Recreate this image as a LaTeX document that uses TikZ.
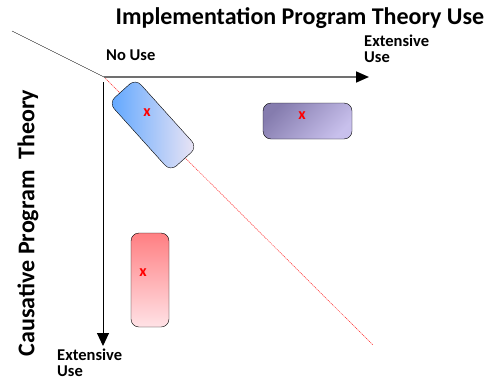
\documentclass[tikz,border=0pt]{standalone}
\usepackage{fontspec}
\setmainfont{Carlito}
\usetikzlibrary{arrows.meta, positioning}

\definecolor{axisgray}{HTML}{707070}
\definecolor{blueA}{HTML}{5EA6FF}
\definecolor{blueB}{HTML}{EEE6F4}
\definecolor{purpleA}{HTML}{857CAE}
\definecolor{purpleB}{HTML}{C8C0EC}
\definecolor{redA}{HTML}{FF7F82}
\definecolor{redB}{HTML}{FFE2E6}

\tikzset{
    zone/.style={draw, thin, rounded corners=8pt, inner sep=0pt},
    mark x/.style={text=red, font=\bfseries\fontsize{16}{16}\selectfont, inner sep=0pt},
    axislabel/.style={font=\bfseries\fontsize{16.5}{16}\selectfont, align=left, inner sep=0pt}
}

\begin{document}
\begin{tikzpicture}[x=1pt, y=-1pt]
    \useasboundingbox (0,0) rectangle (489,388);
    \coordinate (O) at (104,77);
    \coordinate (xend) at (369,77);
    \coordinate (yend) at (103,346);
    \coordinate (tail) at (12,31);
    \coordinate (diagend) at (373,345);
    % axes
    \draw (tail) -- (O);
    \draw[red!85, line width=0.5pt, dash pattern=on 1.2pt off 0.8pt] (O) -- (diagend);
    \draw[axisgray, line width=1.6pt, -{Triangle[color=black, length=13pt, width=11pt]}] (O) -- (xend);
    \draw[line width=1pt, -{Triangle[length=13pt, width=12pt]}] (103,82) -- (yend);
    % zones
    \node[zone, minimum width=92pt, minimum height=36pt, rotate=-48,
          left color=blueA, right color=blueB] (causal) at (153,125) {};
    \node[zone, minimum width=89pt, minimum height=36pt,
          top color=purpleA, bottom color=purpleB, shading angle=45] (mixed) at (307.5,121) {};
    \node[zone, minimum width=38pt, minimum height=94pt,
          top color=redA, bottom color=redB] (implement) at (150,280) {};
    \node[mark x] at (147,113) {x};
    \node[mark x] at (302,116) {x};
    \node[mark x] at (143,273) {x};
    % labels
    \node[font=\bfseries\fontsize{24}{24}\selectfont] (title) at (300,18) {Implementation Program Theory Use};
    \node[axislabel, anchor=west] (nouse) at (106,55) {No Use};
    \node[axislabel, anchor=north west] (xext) at (364,35) {Extensive\\Use};
    \node[axislabel, anchor=north west] (yext) at (57,349) {Extensive\\Use};
    \node[font=\bfseries\fontsize{24}{24}\selectfont, rotate=90] (ytitle) at (28,223) {Causative Program\ \ Theory};
\end{tikzpicture}
\end{document}
